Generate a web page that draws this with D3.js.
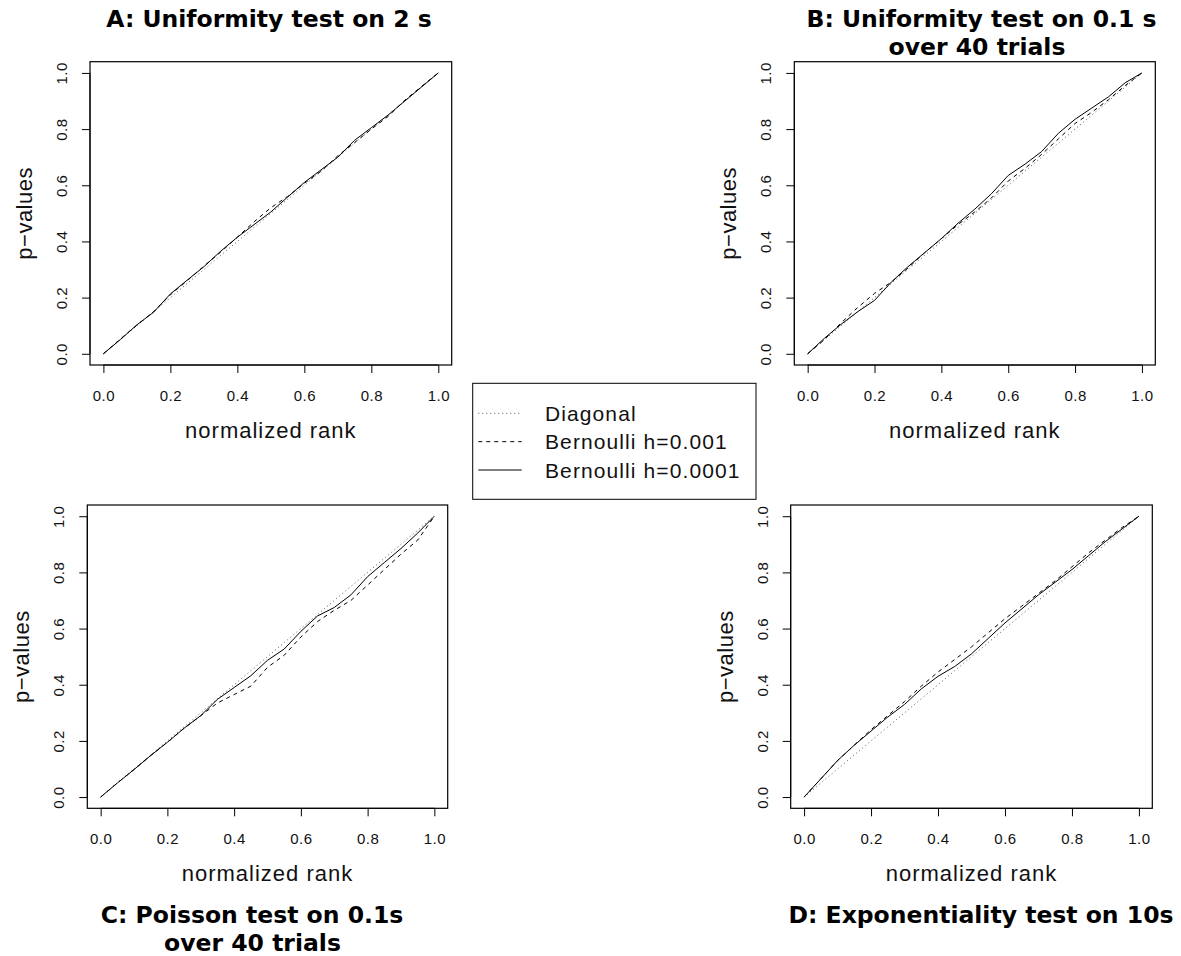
<!DOCTYPE html>
<html><head><meta charset="utf-8">
<script src="https://cdn.jsdelivr.net/npm/d3@7/dist/d3.min.js"></script>
<style>
body{margin:0;background:#fff;}
svg{display:block;}
.tick text{font-family:"Liberation Sans",Arial,sans-serif;}
</style></head>
<body><svg id="c" width="1181" height="956"></svg>
<script>
// ---------- data ----------
const rank = [0,0.05,0.1,0.15,0.2,0.25,0.3,0.35,0.4,0.45,0.5,0.55,0.6,0.65,0.7,0.75,0.8,0.85,0.9,0.95,1];
const diagonal = rank.slice();
const solidA  = [0,0.05,0.103,0.148,0.213,0.262,0.31,0.365,0.415,0.46,0.505,0.558,0.61,0.655,0.70,0.76,0.805,0.85,0.9,0.95,1];
const dashedA = [0,0.052,0.102,0.15,0.21,0.26,0.312,0.362,0.415,0.47,0.52,0.56,0.607,0.65,0.705,0.752,0.80,0.845,0.903,0.952,1];
const solidB  = [0,0.055,0.105,0.15,0.19,0.255,0.31,0.36,0.41,0.465,0.515,0.57,0.635,0.675,0.72,0.785,0.835,0.875,0.915,0.965,1];
const dashedB = [0,0.05,0.11,0.165,0.215,0.255,0.305,0.36,0.41,0.46,0.505,0.555,0.615,0.66,0.71,0.765,0.82,0.86,0.905,0.955,1];
const solidC  = [0,0.05,0.098,0.148,0.195,0.245,0.29,0.348,0.39,0.432,0.487,0.527,0.59,0.645,0.675,0.72,0.785,0.835,0.885,0.94,1];
const dashedC = [0,0.05,0.098,0.148,0.195,0.245,0.29,0.335,0.365,0.395,0.462,0.505,0.57,0.625,0.665,0.70,0.755,0.81,0.865,0.915,1];
const solidD  = [0,0.065,0.13,0.185,0.235,0.285,0.33,0.385,0.43,0.465,0.51,0.565,0.62,0.67,0.72,0.765,0.81,0.86,0.91,0.955,1];
const dashedD = [0,0.065,0.13,0.185,0.24,0.29,0.34,0.395,0.445,0.49,0.535,0.585,0.635,0.68,0.725,0.77,0.82,0.87,0.915,0.96,1];
const tickValues = [0,0.2,0.4,0.6,0.8,1.0];
const tickLabels = ["0.0","0.2","0.4","0.6","0.8","1.0"];
const titles = [
  ["A: Uniformity test on 2 s"],
  ["B: Uniformity test on 0.1 s","over 40 trials"],
  ["C: Poisson test on 0.1s","over 40 trials"],
  ["D: Exponentiality test on 10s"]
];
const legendLabels = ["Diagonal","Bernoulli h=0.001","Bernoulli h=0.0001"];
const xLabel = "normalized rank";
const yLabel = "p\u2212values";

// ---------- layout ----------
const panels = [
  {box:[90,451.7,61.7,365], solid:solidA, dashed:dashedA, title:titles[0], tx:[269], ty:[27]},
  {box:[794.3,1155.3,61.7,365], solid:solidB, dashed:dashedB, title:titles[1], tx:[981.5,977], ty:[27,55]},
  {box:[87.3,447.7,505,808.3], solid:solidC, dashed:dashedC, title:titles[2], tx:[252,252.5], ty:[923,951]},
  {box:[790.7,1152.3,505,808.3], solid:solidD, dashed:dashedD, title:titles[3], tx:[981], ty:[923]}
];
const svg = d3.select("#c");
const styles = [
  {key:"diag", dash:"1,3", color:"#555"},
  {key:"dashed", dash:"4,4", color:"#000"},
  {key:"solid", dash:null, color:"#000"}
];

panels.forEach(p => {
  const [x0,x1,y0,y1] = p.box;
  const x = d3.scaleLinear().domain([-0.04,1.04]).range([x0,x1]);
  const y = d3.scaleLinear().domain([-0.04,1.04]).range([y1,y0]);
  const g = svg.append("g");
  const series = [diagonal, p.dashed, p.solid];
  const line = d3.line().x((d,i)=>x(rank[i])).y(d=>y(d));
  series.forEach((s,k)=>{
    g.append("path").datum(s).attr("d",line)
      .attr("fill","none").attr("stroke",styles[k].color).attr("stroke-width",1)
      .attr("stroke-dasharray",styles[k].dash);
  });
  // box
  g.append("rect").attr("x",x0).attr("y",y0).attr("width",x1-x0).attr("height",y1-y0)
    .attr("fill","none").attr("stroke","#000").attr("stroke-width",1.2);
  // x axis
  const ax = g.append("g").attr("transform",`translate(0,${y1})`)
    .call(d3.axisBottom(x).tickValues(tickValues).tickFormat((d,i)=>tickLabels[i]).tickSize(8).tickPadding(20));
  ax.select(".domain").remove();
  ax.append("line").attr("x1",x(0)).attr("x2",x(1)).attr("stroke","#000");
  ax.selectAll(".tick line").attr("stroke","#000");
  ax.selectAll(".tick text").attr("font-size",15).attr("fill","#111").attr("letter-spacing","0.5px").attr("dy","0.71em").attr("y",25);
  // y axis
  const ay = g.append("g").attr("transform",`translate(${x0},0)`)
    .call(d3.axisLeft(y).tickValues(tickValues).tickFormat((d,i)=>tickLabels[i]).tickSize(8));
  ay.select(".domain").remove();
  ay.append("line").attr("y1",y(0)).attr("y2",y(1)).attr("stroke","#000");
  ay.selectAll(".tick line").attr("stroke","#000");
  ay.selectAll(".tick text").attr("font-size",15).attr("fill","#111").attr("letter-spacing","0.5px")
    .attr("x",null).attr("dy",null).attr("text-anchor","middle")
    .attr("transform","translate(-23,0) rotate(-90)");
  // labels
  g.append("text").attr("x",(x(0)+x(1))/2).attr("y",y1+73).attr("text-anchor","middle")
    .attr("font-family","Liberation Sans, Arial, sans-serif").attr("font-size",22).attr("letter-spacing","1px")
    .attr("fill","#111").text(xLabel);
  g.append("text").attr("transform",`translate(${x0-58},${(y(0)+y(1))/2}) rotate(-90)`).attr("text-anchor","middle")
    .attr("font-family","Liberation Sans, Arial, sans-serif").attr("font-size",22).attr("letter-spacing","0.5px")
    .attr("fill","#111").text(yLabel);
  // title
  p.title.forEach((t,i)=>{
    g.append("text").attr("x",p.tx[i]).attr("y",p.ty[i]).attr("text-anchor","middle")
      .attr("font-family","DejaVu Sans, sans-serif").attr("font-weight","bold").attr("font-size",23.5)
      .attr("fill","#000").text(t);
  });
});

// legend
const lg = svg.append("g");
lg.append("rect").attr("x",472.7).attr("y",383.3).attr("width",283.3).attr("height",116)
  .attr("fill","#fff").attr("stroke","#000").attr("stroke-width",1);
const ly = d3.scalePoint().domain(legendLabels).range([413.3,470]);
legendLabels.forEach((lab,k)=>{
  lg.append("line").attr("x1",478.3).attr("x2",521.7).attr("y1",ly(lab)).attr("y2",ly(lab))
    .attr("stroke",styles[k].color).attr("stroke-width",1).attr("stroke-dasharray",styles[k].dash);
  lg.append("text").attr("x",545).attr("y",ly(lab)).attr("dy","0.36em")
    .attr("font-family","Liberation Sans, Arial, sans-serif").attr("font-size",21).attr("letter-spacing","1.1px")
    .attr("fill","#111").text(lab);
});
</script></body></html>
